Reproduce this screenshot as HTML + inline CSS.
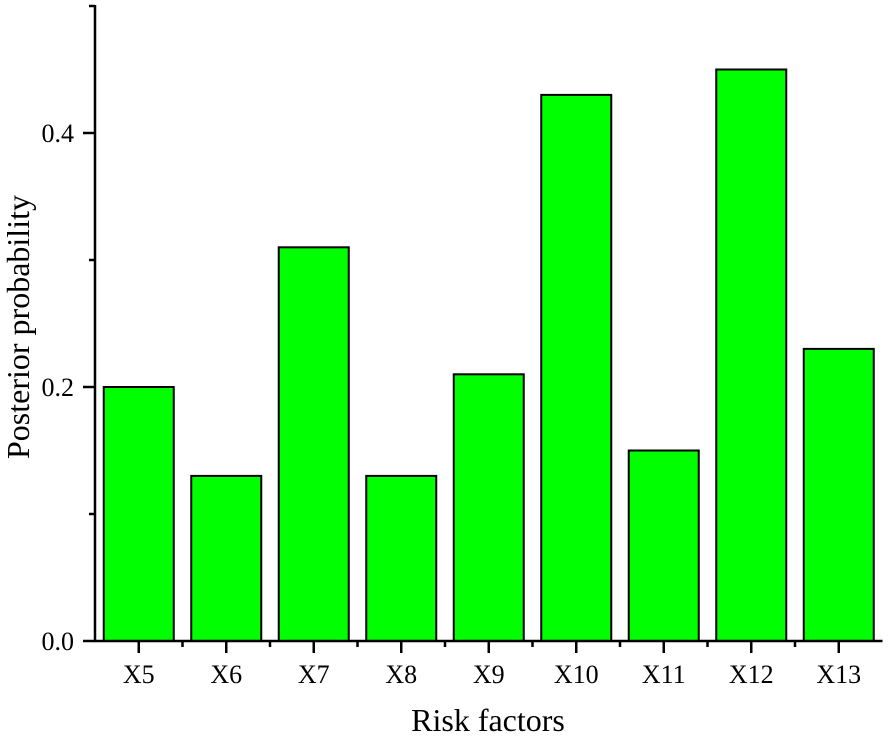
<!DOCTYPE html>
<html><head><meta charset="utf-8"><style>
html,body{margin:0;padding:0;background:#fff;}
svg{display:block;font-family:"Liberation Serif",serif;}
</style></head><body>
<svg id="chart" width="889" height="739" viewBox="0 0 889 739"></svg>
<script>
const categories = ["X5","X6","X7","X8","X9","X10","X11","X12","X13"];
const values = [0.20,0.13,0.31,0.13,0.21,0.43,0.15,0.45,0.23];
const yTickLabels = ["0.0","0.2","0.4"];
const yTickValues = [0,0.2,0.4];
const yMinorValues = [0.1,0.3,0.5];

const NS="http://www.w3.org/2000/svg";
const svg=document.getElementById('chart');
const x0=95, y0=641, band=87.5, yTop=6;
const yMax=0.5;
function yScale(v){return y0-(v/yMax)*(y0-yTop);}
function xCenter(i){return x0+band*(i+0.5);}
function mk(tag,attrs){const e=document.createElementNS(NS,tag);for(const k in attrs)e.setAttribute(k,attrs[k]);svg.appendChild(e);return e;}

categories.forEach((c,i)=>{
  const w=band*0.8, top=yScale(values[i]);
  const r=mk('rect',{x:xCenter(i)-w/2,y:top,width:w,height:y0-top,fill:'#00ff00',stroke:'#000','stroke-width':2});
  
  
  const t=mk('line',{x1:xCenter(i),y1:y0,x2:xCenter(i),y2:y0+12,stroke:'#000','stroke-width':2.5});
  
  
  const lab=mk('text',{x:xCenter(i),y:y0+42,'text-anchor':'middle','font-size':26});
  lab.textContent=c;
  
  
  if(i<categories.length-1){
    const m=mk('line',{x1:x0+band*(i+1),y1:y0,x2:x0+band*(i+1),y2:y0+6,stroke:'#000','stroke-width':2.5});
    
    
  }
});
yTickValues.forEach((v,i)=>{
  const y=yScale(v);
  const t=mk('line',{x1:x0-12,y1:y,x2:x0,y2:y,stroke:'#000','stroke-width':2.5});
  
  
  const lab=mk('text',{x:74,y:y+9,'text-anchor':'end','font-size':26});
  lab.textContent=yTickLabels[i];
  
  
});
yMinorValues.forEach(v=>{
  const y=yScale(v);
  const t=mk('line',{x1:x0-6,y1:y,x2:x0,y2:y,stroke:'#000','stroke-width':2.5});
  
  
});
const ya=mk('line',{x1:x0,y1:yTop-1,x2:x0,y2:y0,stroke:'#000','stroke-width':2.5});


const xa=mk('line',{x1:x0-1,y1:y0,x2:x0+band*9,y2:y0,stroke:'#000','stroke-width':2.5});


const xt=mk('text',{x:488,y:731,'text-anchor':'middle','font-size':32});
xt.textContent='Risk factors';


const yt=mk('text',{x:0,y:0,'text-anchor':'middle','font-size':32,transform:'translate(29,327) rotate(-90)'});
yt.textContent='Posterior probability';


</script>
</body></html>
